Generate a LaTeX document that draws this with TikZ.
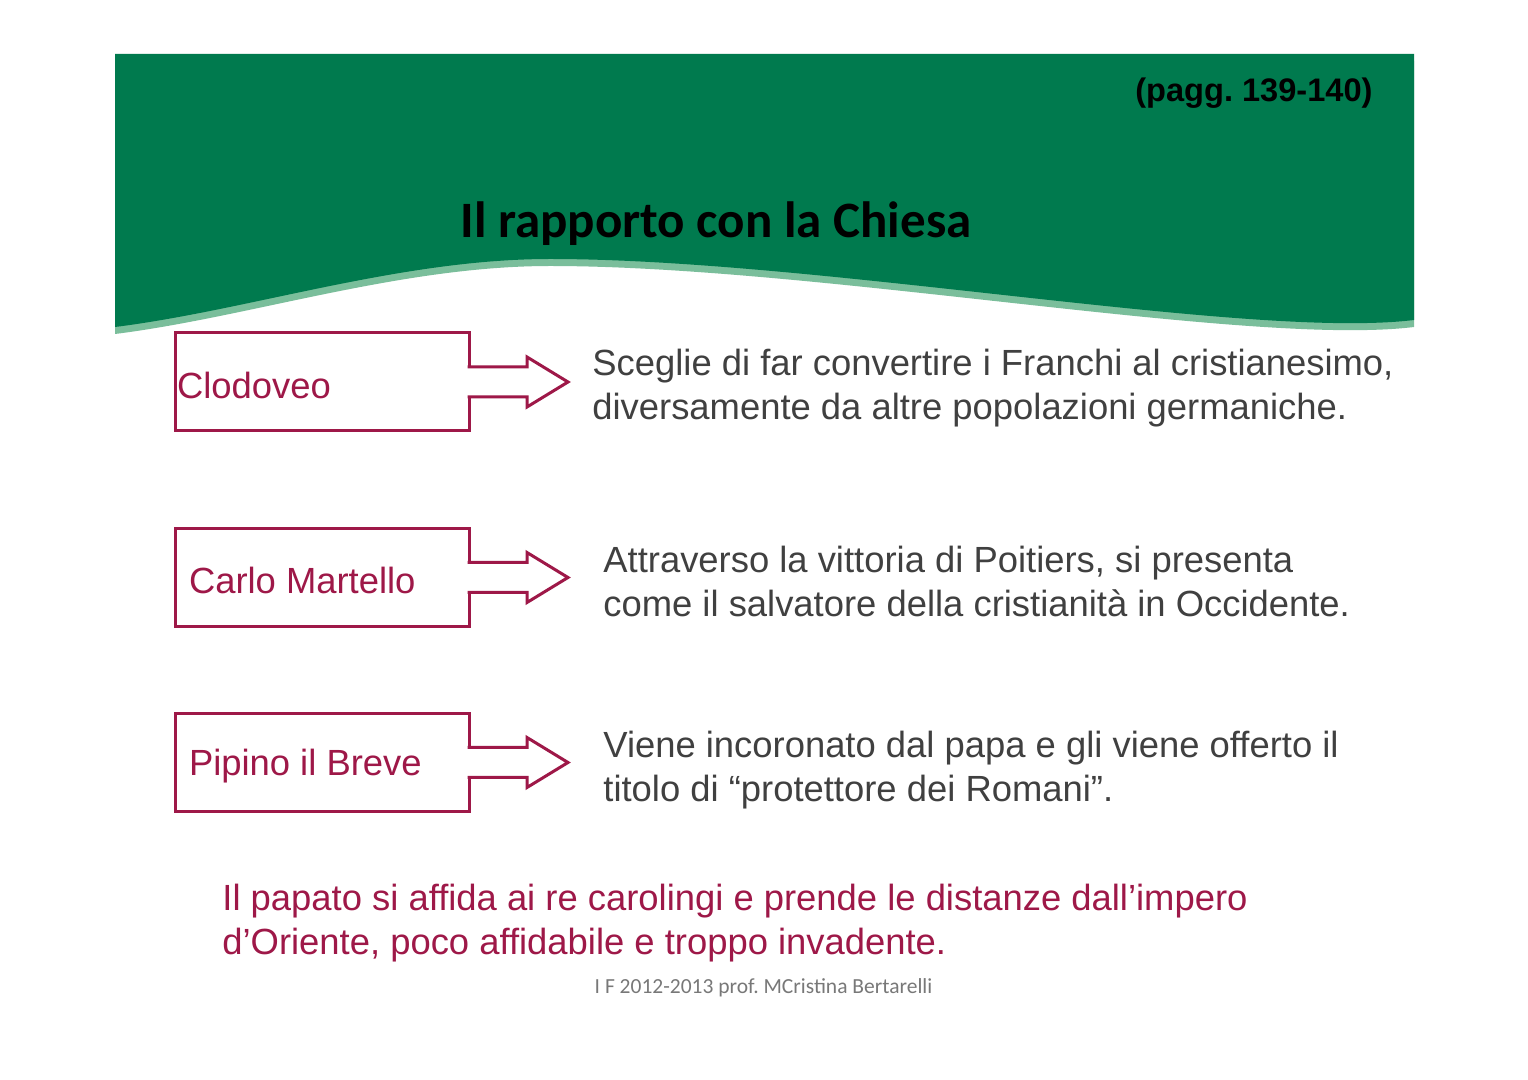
\documentclass[tikz,border=0pt]{standalone}
\usepackage{fontspec}
\setmainfont{Liberation Sans}
\newfontfamily\calibri{Carlito}
\usetikzlibrary{positioning,calc}
\frenchspacing
\definecolor{verde}{RGB}{0,122,78}
\definecolor{verdechiaro}{RGB}{122,190,155}
\definecolor{cremisi}{RGB}{158,24,72}
\definecolor{grigio}{RGB}{64,64,64}
\definecolor{grigiochiaro}{RGB}{120,120,120}
\tikzstyle{personaggio} = [draw=cremisi, line width=1.5pt, minimum width=147pt, minimum height=49pt, inner sep=0pt, outer sep=0pt]
\tikzstyle{nome} = [text=cremisi, font=\fontsize{18.2}{22}\selectfont, inner sep=0pt]
\tikzstyle{freccia} = [draw=cremisi, line width=1.5pt, fill=white, line join=miter]
\tikzstyle{testo} = [text=grigio, font=\fontsize{18.2}{22}\selectfont, align=left, inner sep=0pt]
\begin{document}
\begin{tikzpicture}[x=0.5pt, y=-0.5pt]
\useasboundingbox[fill=white] (0,0) rectangle (1528,1080);
% testata
\fill[verdechiaro, yshift=-3.5pt] (115,54) -- (1414,54) -- (1414,320) .. controls (1250,340) and (820,259) .. (550,259) .. controls (400,259) and (250,310) .. (115,327) -- cycle;
\fill[verde] (115,54) -- (1414,54) -- (1414,320) .. controls (1250,340) and (820,259) .. (550,259) .. controls (400,259) and (250,310) .. (115,327) -- cycle;
\node[font=\fontsize{16.3}{19}\selectfont\bfseries, anchor=base east, inner sep=0pt] (pagine) at (1373,102) {(pagg. 139-140)};
\node[font=\calibri\fontsize{25.5}{30}\selectfont\bfseries, anchor=base, inner sep=0pt] (titolo) at (716,238) {Il rapporto con la Chiesa};
% personaggi
\node[personaggio] (clodoveo) at (322,382) {};
\node[personaggio] (carlo) at (322,577.5) {};
\node[personaggio] (pipino) at (322,762.5) {};
\node[nome, right=0.8pt of clodoveo.west, yshift=-1.5pt] (nome1) {Clodoveo};
\node[nome, right=6.8pt of carlo.west, yshift=-1.5pt] (nome2) {Carlo Martello};
\node[nome, right=6.8pt of pipino.west, yshift=-2pt] (nome3) {Pipino il Breve};
% frecce
\coordinate[right=49.5pt of clodoveo] (punta1);
\coordinate[right=49.5pt of carlo] (punta2);
\coordinate[right=49.5pt of pipino] (punta3);
\draw[freccia] ([shift={(-1.5,-15)}]clodoveo.east) -- ++(59.5,0) -- ++(0,-10) -- (punta1) -- ++(-41,25) -- ++(0,-10) -- ++(-59.5,0);
\draw[freccia] ([shift={(-1.5,-15)}]carlo.east) -- ++(59.5,0) -- ++(0,-10) -- (punta2) -- ++(-41,25) -- ++(0,-10) -- ++(-59.5,0);
\draw[freccia] ([shift={(-1.5,-15)}]pipino.east) -- ++(59.5,0) -- ++(0,-10) -- (punta3) -- ++(-41,25) -- ++(0,-10) -- ++(-59.5,0);
% testi
\node[testo, right=12pt of punta1, yshift=-3pt] (testo1) {Sceglie di far convertire i Franchi al cristianesimo,\\diversamente da altre popolazioni germaniche.};
\node[testo, right=17.5pt of punta2, yshift=-2pt] (testo2) {Attraverso la vittoria di Poitiers, si presenta\\come il salvatore della cristianità in Occidente.};
\node[testo, right=17.5pt of punta3, yshift=-3.8pt] (testo3) {Viene incoronato dal papa e gli viene offerto il\\titolo di “protettore dei Romani”.};
\node[testo, text=cremisi, anchor=west] (papato) at (222,923) {Il papato si affida ai re carolingi e prende le distanze dall’impero\\d’Oriente, poco affidabile e troppo invadente.};
\node[font=\calibri\fontsize{10.75}{13}\selectfont, text=grigiochiaro, anchor=base, inner sep=0pt] (piede) at (763.5,993) {I F 2012-2013 prof. MCristina Bertarelli};
\end{tikzpicture}
\end{document}
